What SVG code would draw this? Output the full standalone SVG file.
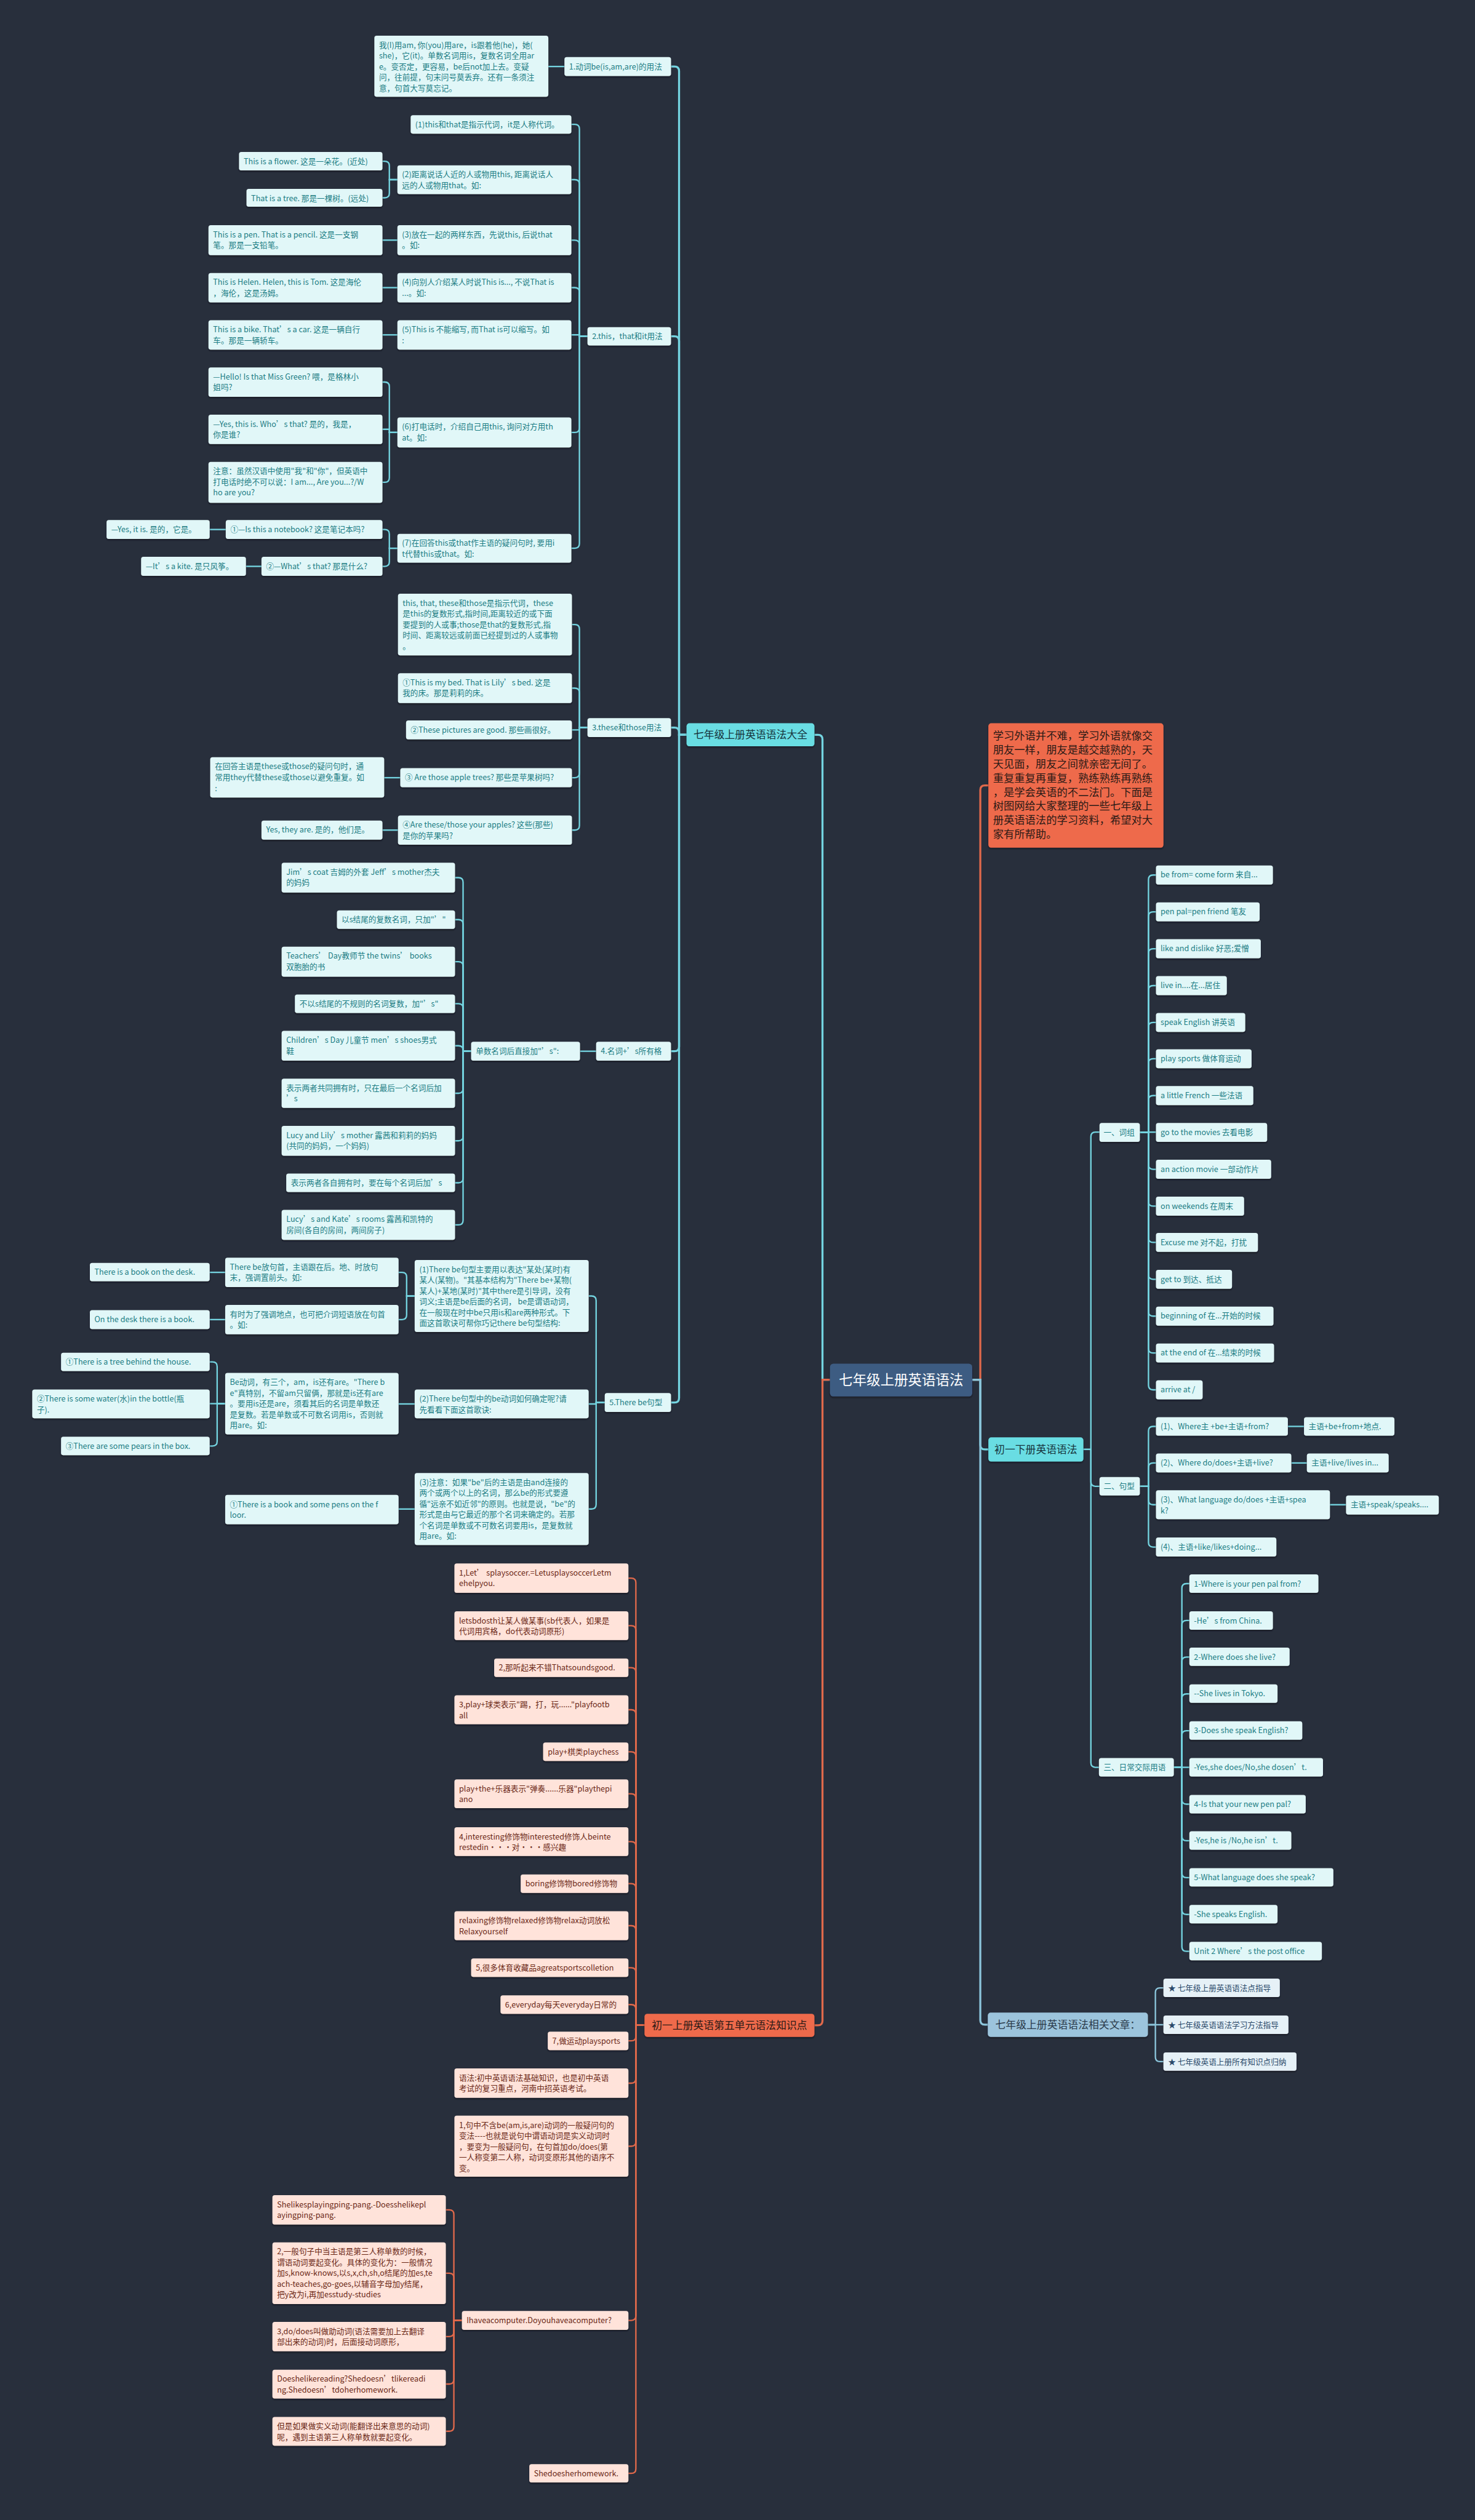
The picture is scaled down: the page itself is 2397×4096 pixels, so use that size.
<svg xmlns="http://www.w3.org/2000/svg" width="2397" height="4096" viewBox="0 0 2397 4096">
<defs>
<style>
text{font-family:"Noto Sans CJK SC","Noto Sans",sans-serif;}
.n rect{fill:#e1f7f8;filter:url(#sh)}
.n text{fill:#1b7d84;font-size:13.5px}
.p rect{fill:#ffe3da;filter:url(#sh)}
.p text{fill:#6b2816;font-size:13.5px}
.k rect{fill:#e6f1f7;filter:url(#sh)}
.k text{fill:#2b4a6a;font-size:13.5px}
.L1 rect{fill:#69dde3;filter:url(#sh)}
.L1 text{fill:#17343c;font-size:18px;text-anchor:middle}
.rd rect{fill:#ee6a4c;filter:url(#sh)}
.rd text{fill:#2c1a16;font-size:18px}
.rel rect{fill:#9cc4dc;filter:url(#sh)}
.rel text{fill:#2b3b4b;font-size:18px;text-anchor:middle}
.root rect{fill:#3e5b82;filter:url(#sh)}
.root text{fill:#ffffff;font-size:24px;text-anchor:middle}
.c{fill:none;stroke:#74d4e0;stroke-width:2.5}
.r{fill:none;stroke:#e0694b;stroke-width:2.5}
.b{fill:none;stroke:#8cc6dc;stroke-width:2.5}
.t{stroke-width:3.5}
</style>
<filter id="sh" x="-5%" y="-10%" width="110%" height="130%"><feDropShadow dx="0" dy="2" stdDeviation="1.2" flood-color="#10141b" flood-opacity="0.7"/></filter>
</defs>
<rect x="0" y="0" width="2397" height="4096" fill="#282f3c"/>
<g transform="scale(0.936)">
<g id="connectors">
<path class="c t" d="M1441 2396 H1428 V1284 Q1428 1276 1420 1276 H1414"/>
<path class="r t" d="M1441 2396 H1428 V3509 Q1428 3517 1420 3517 H1414"/>
<path class="r t" d="M1688 2396 H1702 V1372 Q1702 1364 1710 1364 H1716"/>
<path class="c t" d="M1688 2396 H1702 V2509 Q1702 2517 1710 2517 H1716"/>
<path class="b t" d="M1688 2396 H1702 V3508 Q1702 3516 1710 3516 H1715"/>
<path class="c t" d="M1192 1276 H1179 V123.5 Q1179 115.5 1171 115.5 H1165"/>
<path class="c t" d="M1192 1276 H1179 V592 Q1179 584 1171 584 H1165"/>
<path class="c t" d="M1192 1276 H1179 V1271.5 Q1179 1263.5 1171 1263.5 H1165"/>
<path class="c t" d="M1192 1276 H1179 V1817.5 Q1179 1825.5 1171 1825.5 H1165"/>
<path class="c t" d="M1192 1276 H1179 V2427.5 Q1179 2435.5 1171 2435.5 H1165"/>
<path class="c" d="M980 115.5 H952"/>
<path class="c" d="M1020 584 H1006 V224 Q1006 216 998 216 H992"/>
<path class="c" d="M1020 584 H1006 V320 Q1006 312 998 312 H992"/>
<path class="c" d="M1020 584 H1006 V425 Q1006 417 998 417 H992"/>
<path class="c" d="M1020 584 H1006 V507.5 Q1006 499.5 998 499.5 H992"/>
<path class="c" d="M1020 584 H1006 V581.5 H992"/>
<path class="c" d="M1020 584 H1006 V743 Q1006 751 998 751 H992"/>
<path class="c" d="M1020 584 H1006 V944 Q1006 952 998 952 H992"/>
<path class="c" d="M690 312 H676 V288 Q676 280 668 280 H664"/>
<path class="c" d="M690 312 H676 V335.5 Q676 343.5 668 343.5 H664"/>
<path class="c" d="M690 417 H664"/>
<path class="c" d="M690 499.5 H664"/>
<path class="c" d="M690 581.5 H664"/>
<path class="c" d="M690 751 H676 V671.5 Q676 663.5 668 663.5 H664"/>
<path class="c" d="M690 751 H676 V745.5 H664"/>
<path class="c" d="M690 751 H676 V829.5 Q676 837.5 668 837.5 H664"/>
<path class="c" d="M690 952 H676 V927.5 Q676 919.5 668 919.5 H664"/>
<path class="c" d="M690 952 H676 V975.5 Q676 983.5 668 983.5 H664"/>
<path class="c" d="M392 919.5 H364"/>
<path class="c" d="M454 983.5 H427"/>
<path class="c" d="M1020 1263.5 H1006 V1092.5 Q1006 1084.5 998 1084.5 H993"/>
<path class="c" d="M1020 1263.5 H1006 V1203 Q1006 1195 998 1195 H993"/>
<path class="c" d="M1020 1263.5 H1006 V1267.5 H993"/>
<path class="c" d="M1020 1263.5 H1006 V1342.5 Q1006 1350.5 998 1350.5 H993"/>
<path class="c" d="M1020 1263.5 H1006 V1433.5 Q1006 1441.5 998 1441.5 H993"/>
<path class="c" d="M695 1350.5 H667"/>
<path class="c" d="M691 1441.5 H664"/>
<path class="c" d="M1035 1825.5 H1007"/>
<path class="c" d="M818 1825.5 H804 V1532 Q804 1524 796 1524 H790"/>
<path class="c" d="M818 1825.5 H804 V1605 Q804 1597 796 1597 H790"/>
<path class="c" d="M818 1825.5 H804 V1678 Q804 1670 796 1670 H790"/>
<path class="c" d="M818 1825.5 H804 V1751 Q804 1743 796 1743 H790"/>
<path class="c" d="M818 1825.5 H804 V1824 Q804 1816 796 1816 H790"/>
<path class="c" d="M818 1825.5 H804 V1890.5 Q804 1898.5 796 1898.5 H790"/>
<path class="c" d="M818 1825.5 H804 V1973 Q804 1981 796 1981 H790"/>
<path class="c" d="M818 1825.5 H804 V2046 Q804 2054 796 2054 H790"/>
<path class="c" d="M818 1825.5 H804 V2119 Q804 2127 796 2127 H790"/>
<path class="c" d="M1050 2435.5 H1035 V2258.5 Q1035 2250.5 1027 2250.5 H1022"/>
<path class="c" d="M1050 2435.5 H1035 V2438 H1022"/>
<path class="c" d="M1050 2435.5 H1035 V2612.5 Q1035 2620.5 1027 2620.5 H1022"/>
<path class="c" d="M720 2250.5 H706 V2217.5 Q706 2209.5 698 2209.5 H692"/>
<path class="c" d="M720 2250.5 H706 V2283.5 Q706 2291.5 698 2291.5 H692"/>
<path class="c" d="M391 2209.5 H364"/>
<path class="c" d="M391 2291.5 H364"/>
<path class="c" d="M720 2438 H692"/>
<path class="c" d="M391 2437.5 H377 V2373 Q377 2365 369 2365 H364"/>
<path class="c" d="M391 2437.5 H364"/>
<path class="c" d="M391 2437.5 H377 V2503 Q377 2511 369 2511 H364"/>
<path class="c" d="M720 2620.5 H692"/>
<path class="r" d="M1119 3517 H1104 V2748.5 Q1104 2740.5 1096 2740.5 H1091"/>
<path class="r" d="M1119 3517 H1104 V2831 Q1104 2823 1096 2823 H1091"/>
<path class="r" d="M1119 3517 H1104 V2904 Q1104 2896 1096 2896 H1091"/>
<path class="r" d="M1119 3517 H1104 V2977 Q1104 2969 1096 2969 H1091"/>
<path class="r" d="M1119 3517 H1104 V3050 Q1104 3042 1096 3042 H1091"/>
<path class="r" d="M1119 3517 H1104 V3123 Q1104 3115 1096 3115 H1091"/>
<path class="r" d="M1119 3517 H1104 V3206 Q1104 3198 1096 3198 H1091"/>
<path class="r" d="M1119 3517 H1104 V3279 Q1104 3271 1096 3271 H1091"/>
<path class="r" d="M1119 3517 H1104 V3352 Q1104 3344 1096 3344 H1091"/>
<path class="r" d="M1119 3517 H1104 V3425 Q1104 3417 1096 3417 H1091"/>
<path class="r" d="M1119 3517 H1104 V3489 Q1104 3481 1096 3481 H1091"/>
<path class="r" d="M1119 3517 H1104 V3536 Q1104 3544 1096 3544 H1091"/>
<path class="r" d="M1119 3517 H1104 V3609.5 Q1104 3617.5 1096 3617.5 H1091"/>
<path class="r" d="M1119 3517 H1104 V3719 Q1104 3727 1096 3727 H1091"/>
<path class="r" d="M1119 3517 H1104 V4021.5 Q1104 4029.5 1096 4029.5 H1091"/>
<path class="r" d="M1119 3517 H1104 V4287 Q1104 4295 1096 4295 H1091"/>
<path class="r" d="M802 4029.5 H788 V3845.5 Q788 3837.5 780 3837.5 H774"/>
<path class="r" d="M802 4029.5 H788 V3955.5 Q788 3947.5 780 3947.5 H774"/>
<path class="r" d="M802 4029.5 H788 V4049.5 Q788 4057.5 780 4057.5 H774"/>
<path class="r" d="M802 4029.5 H788 V4132 Q788 4140 780 4140 H774"/>
<path class="r" d="M802 4029.5 H788 V4214 Q788 4222 780 4222 H774"/>
<path class="c" d="M1881 2517 H1894 V1974 Q1894 1966 1902 1966 H1909"/>
<path class="c" d="M1881 2517 H1894 V2573 Q1894 2581 1902 2581 H1909"/>
<path class="c" d="M1881 2517 H1894 V3061 Q1894 3069 1902 3069 H1908"/>
<path class="c" d="M1979 1966 H1994 V1527.5 Q1994 1519.5 2002 1519.5 H2007"/>
<path class="c" d="M1979 1966 H1994 V1591.5 Q1994 1583.5 2002 1583.5 H2007"/>
<path class="c" d="M1979 1966 H1994 V1655.5 Q1994 1647.5 2002 1647.5 H2007"/>
<path class="c" d="M1979 1966 H1994 V1719.5 Q1994 1711.5 2002 1711.5 H2007"/>
<path class="c" d="M1979 1966 H1994 V1783.5 Q1994 1775.5 2002 1775.5 H2007"/>
<path class="c" d="M1979 1966 H1994 V1846.5 Q1994 1838.5 2002 1838.5 H2007"/>
<path class="c" d="M1979 1966 H1994 V1910.5 Q1994 1902.5 2002 1902.5 H2007"/>
<path class="c" d="M1979 1966 H2007"/>
<path class="c" d="M1979 1966 H1994 V2022.5 Q1994 2030.5 2002 2030.5 H2007"/>
<path class="c" d="M1979 1966 H1994 V2086.5 Q1994 2094.5 2002 2094.5 H2007"/>
<path class="c" d="M1979 1966 H1994 V2149.5 Q1994 2157.5 2002 2157.5 H2007"/>
<path class="c" d="M1979 1966 H1994 V2213.5 Q1994 2221.5 2002 2221.5 H2007"/>
<path class="c" d="M1979 1966 H1994 V2277.5 Q1994 2285.5 2002 2285.5 H2007"/>
<path class="c" d="M1979 1966 H1994 V2341.5 Q1994 2349.5 2002 2349.5 H2007"/>
<path class="c" d="M1979 1966 H1994 V2405.5 Q1994 2413.5 2002 2413.5 H2007"/>
<path class="c" d="M1979 2581 H1994 V2485 Q1994 2477 2002 2477 H2007"/>
<path class="c" d="M1979 2581 H1994 V2548.5 Q1994 2540.5 2002 2540.5 H2007"/>
<path class="c" d="M1979 2581 H1994 V2605 Q1994 2613 2002 2613 H2007"/>
<path class="c" d="M1979 2581 H1994 V2678.5 Q1994 2686.5 2002 2686.5 H2007"/>
<path class="c" d="M2236 2477 H2264"/>
<path class="c" d="M2242 2540.5 H2269"/>
<path class="c" d="M2309 2613 H2337"/>
<path class="c" d="M2038 3069 H2052 V2758 Q2052 2750 2060 2750 H2065"/>
<path class="c" d="M2038 3069 H2052 V2822 Q2052 2814 2060 2814 H2065"/>
<path class="c" d="M2038 3069 H2052 V2885.5 Q2052 2877.5 2060 2877.5 H2065"/>
<path class="c" d="M2038 3069 H2052 V2949.5 Q2052 2941.5 2060 2941.5 H2065"/>
<path class="c" d="M2038 3069 H2052 V3013.5 Q2052 3005.5 2060 3005.5 H2065"/>
<path class="c" d="M2038 3069 H2065"/>
<path class="c" d="M2038 3069 H2052 V3125 Q2052 3133 2060 3133 H2065"/>
<path class="c" d="M2038 3069 H2052 V3188.5 Q2052 3196.5 2060 3196.5 H2065"/>
<path class="c" d="M2038 3069 H2052 V3252.5 Q2052 3260.5 2060 3260.5 H2065"/>
<path class="c" d="M2038 3069 H2052 V3316.5 Q2052 3324.5 2060 3324.5 H2065"/>
<path class="c" d="M2038 3069 H2052 V3380.5 Q2052 3388.5 2060 3388.5 H2065"/>
<path class="b" d="M1993 3516 H2006 V3460 Q2006 3452 2014 3452 H2020"/>
<path class="b" d="M1993 3516 H2020"/>
<path class="b" d="M1993 3516 H2006 V3572 Q2006 3580 2014 3580 H2020"/>
</g>

<g id="root" class="root"><rect x="1441" y="2368" width="247" height="57" rx="6"/><text x="1564.5" y="2405">七年级上册英语语法</text></g>
<g id="daquan" class="L1"><rect x="1192" y="1256" width="222" height="40" rx="5"/><text x="1303" y="1282.5">七年级上册英语语法大全</text></g>
<g id="wuyuan" class="rd"><rect x="1119" y="3497" width="295" height="40" rx="5"/><text x="1266.5" y="3523.5" text-anchor="middle">初一上册英语第五单元语法知识点</text></g>
<g id="intro" class="rd"><rect x="1716" y="1256" width="304" height="216" rx="5"/><text x="1724" y="1284" style="font-size:18.5px">学习外语并不难，学习外语就像交<tspan x="1724" dy="24.5">朋友一样，朋友是越交越熟的，天</tspan><tspan x="1724" dy="24.5">天见面，朋友之间就亲密无间了。</tspan><tspan x="1724" dy="24.5">重复重复再重复，熟练熟练再熟练</tspan><tspan x="1724" dy="24.5">，是学会英语的不二法门。下面是</tspan><tspan x="1724" dy="24.5">树图网给大家整理的一些七年级上</tspan><tspan x="1724" dy="24.5">册英语语法的学习资料，希望对大</tspan><tspan x="1724" dy="24.5">家有所帮助。</tspan></text></g>
<g id="xiace" class="L1"><rect x="1716" y="2496" width="165" height="42" rx="5"/><text x="1798.5" y="2523.5">初一下册英语语法</text></g>
<g id="related" class="rel"><rect x="1715" y="3495" width="278" height="42" rx="5"/><text x="1854" y="3522.5">七年级上册英语语法相关文章：</text></g>

<g id="s1" class="n"><rect x="980" y="99" width="185" height="33" rx="4"/><text x="988" y="120.5">1.动词be(is,am,are)的用法</text></g>
<g id="s1a" class="n"><rect x="650" y="62" width="302" height="106" rx="4"/><text x="658" y="83">我(I)用am, 你(you)用are，is跟着他(he)，她(<tspan x="658" dy="18.7">she)，它(it)。单数名词用is，复数名词全用ar</tspan><tspan x="658" dy="18.7">e。变否定，更容易，be后not加上去。变疑</tspan><tspan x="658" dy="18.7">问，往前提，句末问号莫丢弃。还有一条须注</tspan><tspan x="658" dy="18.7">意，句首大写莫忘记。</tspan></text></g>

<g id="s2" class="n"><rect x="1020" y="568" width="145" height="32" rx="4"/><text x="1028" y="589">2.this，that和it用法</text></g>
<g id="s2c1" class="n"><rect x="713" y="200" width="279" height="32" rx="4"/><text x="721" y="221">(1)this和that是指示代词，it是人称代词。</text></g>
<g id="s2c2" class="n"><rect x="690" y="287" width="302" height="50" rx="4"/><text x="698" y="308">(2)距离说话人近的人或物用this, 距离说话人<tspan x="698" dy="18.7">远的人或物用that。如:</tspan></text></g>
<g id="s2c2a" class="n"><rect x="415" y="264" width="249" height="32" rx="4"/><text x="423" y="285">This is a flower. 这是一朵花。(近处)</text></g>
<g id="s2c2b" class="n"><rect x="428" y="328" width="236" height="31" rx="4"/><text x="436" y="349">That is a tree. 那是一棵树。(远处)</text></g>
<g id="s2c3" class="n"><rect x="690" y="391" width="302" height="52" rx="4"/><text x="698" y="412">(3)放在一起的两样东西，先说this, 后说that<tspan x="698" dy="18.7">。如:</tspan></text></g>
<g id="s2c3a" class="n"><rect x="362" y="391" width="302" height="52" rx="4"/><text x="370" y="412">This is a pen. That is a pencil. 这是一支钢<tspan x="370" dy="18.7">笔。那是一支铅笔。</tspan></text></g>
<g id="s2c4" class="n"><rect x="690" y="474" width="302" height="51" rx="4"/><text x="698" y="495">(4)向别人介绍某人时说This is..., 不说That is<tspan x="698" dy="18.7">...。如:</tspan></text></g>
<g id="s2c4a" class="n"><rect x="362" y="474" width="302" height="51" rx="4"/><text x="370" y="495">This is Helen. Helen, this is Tom. 这是海伦<tspan x="370" dy="18.7">，海伦，这是汤姆。</tspan></text></g>
<g id="s2c5" class="n"><rect x="690" y="556" width="302" height="51" rx="4"/><text x="698" y="577">(5)This is 不能缩写, 而That is可以缩写。如<tspan x="698" dy="18.7">:</tspan></text></g>
<g id="s2c5a" class="n"><rect x="362" y="556" width="302" height="51" rx="4"/><text x="370" y="577">This is a bike. That’s a car. 这是一辆自行<tspan x="370" dy="18.7">车。那是一辆轿车。</tspan></text></g>
<g id="s2c6" class="n"><rect x="690" y="725" width="302" height="52" rx="4"/><text x="698" y="746">(6)打电话时，介绍自己用this, 询问对方用th<tspan x="698" dy="18.7">at。如:</tspan></text></g>
<g id="s2c6a" class="n"><rect x="362" y="638" width="302" height="51" rx="4"/><text x="370" y="659">—Hello! Is that Miss Green? 喂，是格林小<tspan x="370" dy="18.7">姐吗?</tspan></text></g>
<g id="s2c6b" class="n"><rect x="362" y="720" width="302" height="51" rx="4"/><text x="370" y="741">—Yes, this is. Who’s that? 是的，我是，<tspan x="370" dy="18.7">你是谁?</tspan></text></g>
<g id="s2c6c" class="n"><rect x="362" y="802" width="302" height="71" rx="4"/><text x="370" y="823">注意：虽然汉语中使用"我"和"你"，但英语中<tspan x="370" dy="18.7">打电话时绝不可以说：I am..., Are you...?/W</tspan><tspan x="370" dy="18.7">ho are you?</tspan></text></g>
<g id="s2c7" class="n"><rect x="690" y="927" width="302" height="50" rx="4"/><text x="698" y="948">(7)在回答this或that作主语的疑问句时, 要用i<tspan x="698" dy="18.7">t代替this或that。如:</tspan></text></g>
<g id="s2c7a" class="n"><rect x="392" y="903" width="272" height="33" rx="4"/><text x="400" y="924">①—Is this a notebook? 这是笔记本吗?</text></g>
<g id="s2c7a1" class="n"><rect x="185" y="903" width="179" height="33" rx="4"/><text x="193" y="924">—Yes, it is. 是的，它是。</text></g>
<g id="s2c7b" class="n"><rect x="454" y="967" width="210" height="33" rx="4"/><text x="462" y="988">②—What’s that? 那是什么?</text></g>
<g id="s2c7b1" class="n"><rect x="245" y="967" width="182" height="33" rx="4"/><text x="253" y="988">—It’s a kite. 是只风筝。</text></g>

<g id="s3" class="n"><rect x="1020" y="1247" width="145" height="33" rx="4"/><text x="1028" y="1268">3.these和those用法</text></g>
<g id="s3c1" class="n"><rect x="691" y="1031" width="302" height="107" rx="4"/><text x="699" y="1052">this, that, these和those是指示代词，these<tspan x="699" dy="18.7">是this的复数形式,指时间,距离较近的或下面</tspan><tspan x="699" dy="18.7">要提到的人或事;those是that的复数形式,指</tspan><tspan x="699" dy="18.7">时间、距离较远或前面已经提到过的人或事物</tspan><tspan x="699" dy="18.7">。</tspan></text></g>
<g id="s3c2" class="n"><rect x="691" y="1169" width="302" height="52" rx="4"/><text x="699" y="1190">①This is my bed. That is Lily’s bed. 这是<tspan x="699" dy="18.7">我的床。那是莉莉的床。</tspan></text></g>
<g id="s3c3" class="n"><rect x="705" y="1251" width="288" height="33" rx="4"/><text x="713" y="1272">②These pictures are good. 那些画很好。</text></g>
<g id="s3c4" class="n"><rect x="695" y="1334" width="298" height="33" rx="4"/><text x="703" y="1355">③ Are those apple trees? 那些是苹果树吗?</text></g>
<g id="s3c4a" class="n"><rect x="365" y="1315" width="302" height="70" rx="4"/><text x="373" y="1336">在回答主语是these或those的疑问句时，通<tspan x="373" dy="18.7">常用they代替these或those以避免重复。如</tspan><tspan x="373" dy="18.7">:</tspan></text></g>
<g id="s3c5" class="n"><rect x="691" y="1416" width="302" height="51" rx="4"/><text x="699" y="1437">④Are these/those your apples? 这些(那些)<tspan x="699" dy="18.7">是你的苹果吗?</tspan></text></g>
<g id="s3c5a" class="n"><rect x="454" y="1425" width="210" height="33" rx="4"/><text x="462" y="1446">Yes, they are. 是的，他们是。</text></g>

<g id="s4" class="n"><rect x="1035" y="1809" width="130" height="33" rx="4"/><text x="1043" y="1830">4.名词+’s所有格</text></g>
<g id="s4c" class="n"><rect x="818" y="1809" width="189" height="33" rx="4"/><text x="826" y="1830">单数名词后直接加"’s":</text></g>
<g id="s4c1" class="n"><rect x="489" y="1498" width="301" height="52" rx="4"/><text x="497" y="1519">Jim’s coat 吉姆的外套 Jeff’s mother杰夫<tspan x="497" dy="18.7">的妈妈</tspan></text></g>
<g id="s4c2" class="n"><rect x="585" y="1581" width="205" height="32" rx="4"/><text x="593" y="1602">以s结尾的复数名词，只加"’"</text></g>
<g id="s4c3" class="n"><rect x="489" y="1644" width="301" height="52" rx="4"/><text x="497" y="1665">Teachers’ Day教师节 the twins’ books<tspan x="497" dy="18.7">双胞胎的书</tspan></text></g>
<g id="s4c4" class="n"><rect x="512" y="1727" width="278" height="32" rx="4"/><text x="520" y="1748">不以s结尾的不规则的名词复数，加"’s"</text></g>
<g id="s4c5" class="n"><rect x="489" y="1790" width="301" height="52" rx="4"/><text x="497" y="1811">Children’s Day 儿童节 men’s shoes男式<tspan x="497" dy="18.7">鞋</tspan></text></g>
<g id="s4c6" class="n"><rect x="489" y="1873" width="301" height="51" rx="4"/><text x="497" y="1894">表示两者共同拥有时，只在最后一个名词后加<tspan x="497" dy="18.7">’s</tspan></text></g>
<g id="s4c7" class="n"><rect x="489" y="1955" width="301" height="52" rx="4"/><text x="497" y="1976">Lucy and Lily’s mother 露茜和莉莉的妈妈<tspan x="497" dy="18.7">(共同的妈妈，一个妈妈)</tspan></text></g>
<g id="s4c8" class="n"><rect x="497" y="2038" width="293" height="32" rx="4"/><text x="505" y="2059">表示两者各自拥有时，要在每个名词后加’s</text></g>
<g id="s4c9" class="n"><rect x="489" y="2101" width="301" height="52" rx="4"/><text x="497" y="2122">Lucy’s and Kate’s rooms 露茜和凯特的<tspan x="497" dy="18.7">房间(各自的房间，两间房子)</tspan></text></g>

<g id="s5" class="n"><rect x="1050" y="2419" width="115" height="33" rx="4"/><text x="1058" y="2440">5.There be句型</text></g>
<g id="s5c1" class="n"><rect x="720" y="2188" width="302" height="125" rx="4"/><text x="728" y="2209">(1)There be句型主要用以表达"某处(某时)有<tspan x="728" dy="18.7">某人(某物)。"其基本结构为"There be+某物(</tspan><tspan x="728" dy="18.7">某人)+某地(某时)"其中there是引导词，没有</tspan><tspan x="728" dy="18.7">词义;主语是be后面的名词， be是谓语动词，</tspan><tspan x="728" dy="18.7">在一般现在时中be只用is和are两种形式。下</tspan><tspan x="728" dy="18.7">面这首歌诀可帮你巧记there be句型结构:</tspan></text></g>
<g id="s5c1a" class="n"><rect x="391" y="2184" width="301" height="51" rx="4"/><text x="399" y="2205">There be放句首，主语跟在后。地、时放句<tspan x="399" dy="18.7">末，强调置前头。如:</tspan></text></g>
<g id="s5c1a1" class="n"><rect x="156" y="2193" width="208" height="32" rx="4"/><text x="164" y="2214">There is a book on the desk.</text></g>
<g id="s5c1b" class="n"><rect x="391" y="2266" width="301" height="51" rx="4"/><text x="399" y="2287">有时为了强调地点，也可把介词短语放在句首<tspan x="399" dy="18.7">。如:</tspan></text></g>
<g id="s5c1b1" class="n"><rect x="156" y="2275" width="208" height="33" rx="4"/><text x="164" y="2296">On the desk there is a book.</text></g>
<g id="s5c2" class="n"><rect x="720" y="2413" width="302" height="50" rx="4"/><text x="728" y="2434">(2)There be句型中的be动词如何确定呢?请<tspan x="728" dy="18.7">先看看下面这首歌诀:</tspan></text></g>
<g id="s5c2a" class="n"><rect x="391" y="2384" width="301" height="107" rx="4"/><text x="399" y="2405">Be动词，有三个，am，is还有are。"There b<tspan x="399" dy="18.7">e"真特别，不留am只留俩，那就是is还有are</tspan><tspan x="399" dy="18.7">。要用is还是are，须看其后的名词是单数还</tspan><tspan x="399" dy="18.7">是复数。若是单数或不可数名词用is，否则就</tspan><tspan x="399" dy="18.7">用are。如:</tspan></text></g>
<g id="s5c2a1" class="n"><rect x="106" y="2349" width="258" height="32" rx="4"/><text x="114" y="2370">①There is a tree behind the house.</text></g>
<g id="s5c2a2" class="n"><rect x="56" y="2413" width="308" height="50" rx="4"/><text x="64" y="2434">②There is some water(水)in the bottle(瓶<tspan x="64" dy="18.7">子).</tspan></text></g>
<g id="s5c2a3" class="n"><rect x="106" y="2495" width="258" height="32" rx="4"/><text x="114" y="2516">③There are some pears in the box.</text></g>
<g id="s5c3" class="n"><rect x="720" y="2558" width="302" height="125" rx="4"/><text x="728" y="2579">(3)注意：如果"be"后的主语是由and连接的<tspan x="728" dy="18.7">两个或两个以上的名词，那么be的形式要遵</tspan><tspan x="728" dy="18.7">循"远亲不如近邻"的原则。也就是说，"be"的</tspan><tspan x="728" dy="18.7">形式是由与它最近的那个名词来确定的。若那</tspan><tspan x="728" dy="18.7">个名词是单数或不可数名词要用is，是复数就</tspan><tspan x="728" dy="18.7">用are。如:</tspan></text></g>
<g id="s5c3a" class="n"><rect x="391" y="2596" width="301" height="51" rx="4"/><text x="399" y="2617">①There is a book and some pens on the f<tspan x="399" dy="18.7">loor.</tspan></text></g>

<g id="p1" class="p"><rect x="789" y="2715" width="302" height="51" rx="4"/><text x="797" y="2736">1,Let’ splaysoccer.=LetusplaysoccerLetm<tspan x="797" dy="18.7">ehelpyou.</tspan></text></g>
<g id="p2" class="p"><rect x="789" y="2798" width="302" height="50" rx="4"/><text x="797" y="2819">letsbdosth让某人做某事(sb代表人，如果是<tspan x="797" dy="18.7">代词用宾格，do代表动词原形)</tspan></text></g>
<g id="p3" class="p"><rect x="858" y="2880" width="233" height="32" rx="4"/><text x="866" y="2901">2,那听起来不错Thatsoundsgood.</text></g>
<g id="p4" class="p"><rect x="789" y="2944" width="302" height="50" rx="4"/><text x="797" y="2965">3,play+球类表示"踢，打，玩......"playfootb<tspan x="797" dy="18.7">all</tspan></text></g>
<g id="p5" class="p"><rect x="943" y="3026" width="148" height="32" rx="4"/><text x="951" y="3047">play+棋类playchess</text></g>
<g id="p6" class="p"><rect x="789" y="3090" width="302" height="50" rx="4"/><text x="797" y="3111">play+the+乐器表示"弹奏......乐器"playthepi<tspan x="797" dy="18.7">ano</tspan></text></g>
<g id="p7" class="p"><rect x="789" y="3173" width="302" height="50" rx="4"/><text x="797" y="3194">4,interesting修饰物interested修饰人beinte<tspan x="797" dy="18.7">restedin···对···感兴趣</tspan></text></g>
<g id="p8" class="p"><rect x="904" y="3255" width="187" height="32" rx="4"/><text x="912" y="3276">boring修饰物bored修饰物</text></g>
<g id="p9" class="p"><rect x="789" y="3319" width="302" height="50" rx="4"/><text x="797" y="3340">relaxing修饰物relaxed修饰物relax动词放松<tspan x="797" dy="18.7">Relaxyourself</tspan></text></g>
<g id="p10" class="p"><rect x="818" y="3401" width="273" height="32" rx="4"/><text x="826" y="3422">5,很多体育收藏品agreatsportscolletion</text></g>
<g id="p11" class="p"><rect x="869" y="3465" width="222" height="32" rx="4"/><text x="877" y="3486">6,everyday每天everyday日常的</text></g>
<g id="p12" class="p"><rect x="951" y="3528" width="140" height="32" rx="4"/><text x="959" y="3549">7,做运动playsports</text></g>
<g id="p13" class="p"><rect x="789" y="3592" width="302" height="51" rx="4"/><text x="797" y="3613">语法:初中英语语法基础知识，也是初中英语<tspan x="797" dy="18.7">考试的复习重点，河南中招英语考试。</tspan></text></g>
<g id="p14" class="p"><rect x="789" y="3674" width="302" height="106" rx="4"/><text x="797" y="3695">1,句中不含be(am,is,are)动词的一般疑问句的<tspan x="797" dy="18.7">变法----也就是说句中谓语动词是实义动词时</tspan><tspan x="797" dy="18.7">，要变为一般疑问句，在句首加do/does(第</tspan><tspan x="797" dy="18.7">一人称变第二人称，动词变原形其他的语序不</tspan><tspan x="797" dy="18.7">变。</tspan></text></g>
<g id="p15" class="p"><rect x="802" y="4013" width="289" height="33" rx="4"/><text x="810" y="4034">Ihaveacomputer.Doyouhaveacomputer?</text></g>
<g id="q1" class="p"><rect x="473" y="3812" width="301" height="51" rx="4"/><text x="481" y="3833">Shelikesplayingping-pang.-Doesshelikepl<tspan x="481" dy="18.7">ayingping-pang.</tspan></text></g>
<g id="q2" class="p"><rect x="473" y="3894" width="301" height="107" rx="4"/><text x="481" y="3915">2,一般句子中当主语是第三人称单数的时候，<tspan x="481" dy="18.7">谓语动词要起变化。具体的变化为：一般情况</tspan><tspan x="481" dy="18.7">加s,know-knows,以s,x,ch,sh,o结尾的加es,te</tspan><tspan x="481" dy="18.7">ach-teaches,go-goes,以辅音字母加y结尾，</tspan><tspan x="481" dy="18.7">把y改为i,再加esstudy-studies</tspan></text></g>
<g id="q3" class="p"><rect x="473" y="4032" width="301" height="51" rx="4"/><text x="481" y="4053">3,do/does叫做助动词(语法需要加上去翻译<tspan x="481" dy="18.7">部出来的动词)时，后面接动词原形，</tspan></text></g>
<g id="q4" class="p"><rect x="473" y="4115" width="301" height="50" rx="4"/><text x="481" y="4136">Doeshelikereading?Shedoesn’tlikereadi<tspan x="481" dy="18.7">ng.Shedoesn’tdoherhomework.</tspan></text></g>
<g id="q5" class="p"><rect x="473" y="4197" width="301" height="50" rx="4"/><text x="481" y="4218">但是如果做实义动词(能翻译出来意思的动词)<tspan x="481" dy="18.7">呢，遇到主语第三人称单数就要起变化。</tspan></text></g>
<g id="p16" class="p"><rect x="919" y="4279" width="172" height="32" rx="4"/><text x="927" y="4300">Shedoesherhomework.</text></g>

<g id="ciz" class="n"><rect x="1909" y="1950" width="70" height="33" rx="4"/><text x="1916" y="1971">一、词组</text></g>
<g id="w1" class="n"><rect x="2007" y="1503" width="203" height="33" rx="4"/><text x="2015" y="1524">be from= come form 来自...</text></g>
<g id="w2" class="n"><rect x="2007" y="1567" width="180" height="33" rx="4"/><text x="2015" y="1588">pen pal=pen friend 笔友</text></g>
<g id="w3" class="n"><rect x="2007" y="1631" width="182" height="33" rx="4"/><text x="2015" y="1652">like and dislike 好恶;爱憎</text></g>
<g id="w4" class="n"><rect x="2007" y="1695" width="123" height="33" rx="4"/><text x="2015" y="1716">live in....在...居住</text></g>
<g id="w5" class="n"><rect x="2007" y="1759" width="155" height="33" rx="4"/><text x="2015" y="1780">speak English 讲英语</text></g>
<g id="w6" class="n"><rect x="2007" y="1822" width="166" height="33" rx="4"/><text x="2015" y="1843">play sports 做体育运动</text></g>
<g id="w7" class="n"><rect x="2007" y="1886" width="169" height="33" rx="4"/><text x="2015" y="1907">a little French 一些法语</text></g>
<g id="w8" class="n"><rect x="2007" y="1950" width="193" height="33" rx="4"/><text x="2015" y="1971">go to the movies 去看电影</text></g>
<g id="w9" class="n"><rect x="2007" y="2014" width="200" height="33" rx="4"/><text x="2015" y="2035">an action movie 一部动作片</text></g>
<g id="w10" class="n"><rect x="2007" y="2078" width="153" height="33" rx="4"/><text x="2015" y="2099">on weekends 在周末</text></g>
<g id="w11" class="n"><rect x="2007" y="2141" width="177" height="33" rx="4"/><text x="2015" y="2162">Excuse me 对不起，打扰</text></g>
<g id="w12" class="n"><rect x="2007" y="2205" width="132" height="33" rx="4"/><text x="2015" y="2226">get to 到达、抵达</text></g>
<g id="w13" class="n"><rect x="2007" y="2269" width="204" height="33" rx="4"/><text x="2015" y="2290">beginning of 在...开始的时候</text></g>
<g id="w14" class="n"><rect x="2007" y="2333" width="205" height="33" rx="4"/><text x="2015" y="2354">at the end of 在...结束的时候</text></g>
<g id="w15" class="n"><rect x="2007" y="2397" width="81" height="33" rx="4"/><text x="2015" y="2418">arrive at /</text></g>

<g id="jux" class="n"><rect x="1909" y="2565" width="70" height="32" rx="4"/><text x="1916" y="2586">二、句型</text></g>
<g id="j1" class="n"><rect x="2007" y="2461" width="229" height="32" rx="4"/><text x="2015" y="2482">(1)、Where主 +be+主语+from?</text></g>
<g id="j1a" class="n"><rect x="2264" y="2461" width="157" height="32" rx="4"/><text x="2272" y="2482">主语+be+from+地点.</text></g>
<g id="j2" class="n"><rect x="2007" y="2524" width="235" height="33" rx="4"/><text x="2015" y="2545">(2)、Where do/does+主语+live?</text></g>
<g id="j2a" class="n"><rect x="2269" y="2524" width="142" height="33" rx="4"/><text x="2277" y="2545">主语+live/lives in...</text></g>
<g id="j3" class="n"><rect x="2007" y="2588" width="302" height="50" rx="4"/><text x="2015" y="2609">(3)、What language do/does +主语+spea<tspan x="2015" dy="18.7">k?</tspan></text></g>
<g id="j3a" class="n"><rect x="2337" y="2597" width="161" height="33" rx="4"/><text x="2345" y="2618">主语+speak/speaks....</text></g>
<g id="j4" class="n"><rect x="2007" y="2670" width="209" height="33" rx="4"/><text x="2015" y="2691">(4)、主语+like/likes+doing...</text></g>

<g id="rc" class="n"><rect x="1908" y="3053" width="130" height="32" rx="4"/><text x="1916" y="3074">三、日常交际用语</text></g>
<g id="d1" class="n"><rect x="2065" y="2734" width="224" height="32" rx="4"/><text x="2073" y="2755">1-Where is your pen pal from?</text></g>
<g id="d2" class="n"><rect x="2065" y="2798" width="145" height="32" rx="4"/><text x="2073" y="2819">-He’s from China.</text></g>
<g id="d3" class="n"><rect x="2065" y="2861" width="174" height="32" rx="4"/><text x="2073" y="2882">2-Where does she live?</text></g>
<g id="d4" class="n"><rect x="2065" y="2925" width="153" height="32" rx="4"/><text x="2073" y="2946">--She lives in Tokyo.</text></g>
<g id="d5" class="n"><rect x="2065" y="2989" width="196" height="32" rx="4"/><text x="2073" y="3010">3-Does she speak English?</text></g>
<g id="d6" class="n"><rect x="2065" y="3053" width="232" height="32" rx="4"/><text x="2073" y="3074">-Yes,she does/No,she dosen’t.</text></g>
<g id="d7" class="n"><rect x="2065" y="3117" width="202" height="32" rx="4"/><text x="2073" y="3138">4-Is that your new pen pal?</text></g>
<g id="d8" class="n"><rect x="2065" y="3180" width="177" height="32" rx="4"/><text x="2073" y="3201">-Yes,he is /No,he isn’t.</text></g>
<g id="d9" class="n"><rect x="2065" y="3244" width="250" height="32" rx="4"/><text x="2073" y="3265">5-What language does she speak?</text></g>
<g id="d10" class="n"><rect x="2065" y="3308" width="153" height="32" rx="4"/><text x="2073" y="3329">-She speaks English.</text></g>
<g id="d11" class="n"><rect x="2065" y="3372" width="230" height="32" rx="4"/><text x="2073" y="3393">Unit 2 Where’s the post office</text></g>

<g id="k1" class="k"><rect x="2020" y="3436" width="202" height="32" rx="4"/><text x="2028" y="3457">★ 七年级上册英语语法点指导</text></g>
<g id="k2" class="k"><rect x="2020" y="3500" width="217" height="32" rx="4"/><text x="2028" y="3521">★ 七年级英语语法学习方法指导</text></g>
<g id="k3" class="k"><rect x="2020" y="3564" width="231" height="32" rx="4"/><text x="2028" y="3585">★ 七年级英语上册所有知识点归纳</text></g>
</g>
</svg>
